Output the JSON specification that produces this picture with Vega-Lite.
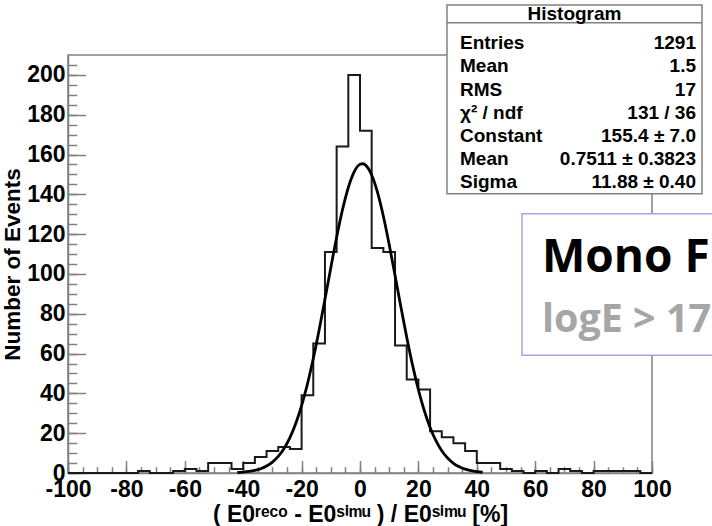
{
  "$schema": "https://vega.github.io/schema/vega-lite/v6.json",
  "width": 584,
  "height": 418,
  "autosize": {"type": "none"},
  "padding": {"left": 68, "top": 55, "right": 60, "bottom": 53},
  "background": "white",
  "config": {
    "view": {"stroke": "#808080", "strokeWidth": 1.5},
    "axis": {
      "grid": false,
      "labelFont": "Liberation Sans",
      "labelFontWeight": "bold",
      "labelFontSize": 23,
      "labelColor": "black",
      "titleFont": "Liberation Sans",
      "titleFontWeight": "bold",
      "titleColor": "black",
      "domainColor": "#808080",
      "domainWidth": 1.5,
      "tickColor": "#808080",
      "tickWidth": 1.5,
      "labelFlush": false,
      "labelOverlap": false
    }
  },
  "resolve": {"axis": {"x": "independent", "y": "independent"}},
  "layer": [
    {
      "data": {"values": [
        {"x": -100, "n": 0}, {"x": -96, "n": 0}, {"x": -92, "n": 0}, {"x": -88, "n": 0},
        {"x": -84, "n": 0}, {"x": -80, "n": 0}, {"x": -76, "n": 1}, {"x": -72, "n": 0},
        {"x": -68, "n": 0}, {"x": -64, "n": 1}, {"x": -60, "n": 2}, {"x": -56, "n": 1},
        {"x": -52, "n": 5}, {"x": -48, "n": 5}, {"x": -44, "n": 2}, {"x": -40, "n": 5},
        {"x": -36, "n": 8}, {"x": -32, "n": 11}, {"x": -28, "n": 13}, {"x": -24, "n": 12},
        {"x": -20, "n": 39}, {"x": -16, "n": 65}, {"x": -12, "n": 111}, {"x": -8, "n": 164},
        {"x": -4, "n": 200}, {"x": 0, "n": 172}, {"x": 4, "n": 113}, {"x": 8, "n": 111},
        {"x": 12, "n": 64}, {"x": 16, "n": 47}, {"x": 20, "n": 42}, {"x": 24, "n": 21},
        {"x": 28, "n": 18}, {"x": 32, "n": 15}, {"x": 36, "n": 11}, {"x": 40, "n": 5},
        {"x": 44, "n": 5}, {"x": 48, "n": 2}, {"x": 52, "n": 1}, {"x": 56, "n": 0},
        {"x": 60, "n": 1}, {"x": 64, "n": 0}, {"x": 68, "n": 2}, {"x": 72, "n": 1},
        {"x": 76, "n": 0}, {"x": 80, "n": 1}, {"x": 84, "n": 1}, {"x": 88, "n": 1},
        {"x": 92, "n": 1}, {"x": 96, "n": 0}, {"x": 100, "n": 0}
      ]},
      "mark": {"type": "line", "interpolate": "step-after", "color": "#1a1a1a", "strokeWidth": 2},
      "encoding": {
        "x": {
          "field": "x", "type": "quantitative",
          "scale": {"domain": [-100, 100], "nice": false},
          "axis": {
            "orient": "bottom",
            "values": [-100, -80, -60, -40, -20, 0, 20, 40, 60, 80, 100],
            "labelExpr": "replace(datum.label, '−', '-')",
            "ticks": false,
            "labelPadding": 5,
            "title": "( E0ʳᵉᶜᵒ - E0ˢⁱᵐᵘ ) / E0ˢⁱᵐᵘ [%]",
            "titleFontSize": 23,
            "titlePadding": 2
          }
        },
        "y": {
          "field": "n", "type": "quantitative",
          "scale": {"domain": [0, 210], "nice": false},
          "axis": {
            "orient": "left",
            "values": [0, 20, 40, 60, 80, 100, 120, 140, 160, 180, 200],
            "ticks": false,
            "labelPadding": 3,
            "title": "Number of Events",
            "titleFontSize": 22.5,
            "titlePadding": 2
          }
        }
      }
    },
    {
      "data": {"values": [
        {"x": -42, "f": 0.24}, {"x": -40, "f": 0.43}, {"x": -38, "f": 0.76}, {"x": -36, "f": 1.30},
        {"x": -34, "f": 2.16}, {"x": -32, "f": 3.48}, {"x": -30, "f": 5.45}, {"x": -28, "f": 8.31},
        {"x": -26, "f": 12.32}, {"x": -24, "f": 17.74}, {"x": -22, "f": 24.84}, {"x": -20, "f": 33.80},
        {"x": -18, "f": 44.72}, {"x": -16, "f": 57.51}, {"x": -14, "f": 71.88}, {"x": -12, "f": 87.35},
        {"x": -10, "f": 103.17}, {"x": -8, "f": 118.47}, {"x": -6, "f": 132.23}, {"x": -4, "f": 143.45},
        {"x": -2, "f": 151.28}, {"x": 0, "f": 155.09}, {"x": 1, "f": 155.37}, {"x": 2, "f": 154.54},
        {"x": 4, "f": 149.70}, {"x": 6, "f": 140.95}, {"x": 8, "f": 129.00}, {"x": 10, "f": 114.78},
        {"x": 12, "f": 99.26}, {"x": 14, "f": 83.43}, {"x": 16, "f": 68.19}, {"x": 18, "f": 54.17},
        {"x": 20, "f": 41.82}, {"x": 22, "f": 31.39}, {"x": 24, "f": 22.89}, {"x": 26, "f": 16.24},
        {"x": 28, "f": 11.19}, {"x": 30, "f": 7.50}, {"x": 32, "f": 4.89}, {"x": 34, "f": 3.10},
        {"x": 36, "f": 1.91}, {"x": 38, "f": 1.14}, {"x": 40, "f": 0.66}, {"x": 42, "f": 0.37}
      ]},
      "mark": {"type": "line", "interpolate": "monotone", "color": "black", "strokeWidth": 2.8},
      "encoding": {
        "x": {
          "field": "x", "type": "quantitative",
          "axis": {
            "orient": "bottom",
            "values": [-100, -80, -60, -40, -20, 0, 20, 40, 60, 80, 100],
            "labels": false, "domain": false, "ticks": true, "tickSize": -12.5, "title": null
          }
        },
        "y": {
          "field": "f", "type": "quantitative",
          "axis": {
            "orient": "left",
            "values": [0, 20, 40, 60, 80, 100, 120, 140, 160, 180, 200],
            "labels": false, "domain": false, "ticks": true, "tickSize": -17.5, "title": null
          }
        }
      }
    },
    {
      "data": {"values": [{}]},
      "mark": {"type": "rect", "fill": "white", "stroke": "#808080", "strokeWidth": 1.5},
      "encoding": {
        "x": {
          "datum": 29.79, "type": "quantitative",
          "axis": {
            "orient": "bottom",
            "values": [-100, -95, -90, -85, -80, -75, -70, -65, -60, -55, -50, -45, -40, -35, -30, -25, -20, -15, -10, -5, 0, 5, 10, 15, 20, 25, 30, 35, 40, 45, 50, 55, 60, 65, 70, 75, 80, 85, 90, 95, 100],
            "labels": false, "domain": false, "ticks": true, "tickSize": -6.3, "title": null
          }
        },
        "x2": {"datum": 117.12},
        "y": {
          "datum": 235.1, "type": "quantitative",
          "axis": {
            "orient": "left",
            "values": [0, 5, 10, 15, 20, 25, 30, 35, 40, 45, 50, 55, 60, 65, 70, 75, 80, 85, 90, 95, 100, 105, 110, 115, 120, 125, 130, 135, 140, 145, 150, 155, 160, 165, 170, 175, 180, 185, 190, 195, 200, 205],
            "labels": false, "domain": false, "ticks": true, "tickSize": -8.8, "title": null
          }
        },
        "y2": {"datum": 140.35}
      }
    },
    {
      "data": {"values": [{}]},
      "mark": {"type": "rule", "color": "#808080", "strokeWidth": 1.5},
      "encoding": {
        "x": {"datum": 29.79, "type": "quantitative", "axis": null},
        "x2": {"datum": 117.12},
        "y": {"datum": 226.2, "type": "quantitative", "axis": null}
      }
    },
    {
      "data": {"values": [{"t": "Histogram"}]},
      "mark": {"type": "text", "font": "Liberation Sans", "fontWeight": "bold", "fontSize": 19, "align": "center", "baseline": "middle", "color": "black"},
      "encoding": {
        "x": {"datum": 73.46, "type": "quantitative", "axis": null},
        "y": {"datum": 230.6, "type": "quantitative", "axis": null},
        "text": {"field": "t"}
      }
    },
    {
      "data": {"values": [{}]},
      "mark": {"type": "text", "font": "Liberation Sans", "fontWeight": "bold", "fontSize": 19, "align": "left", "baseline": "alphabetic", "lineHeight": 23.2, "color": "black"},
      "encoding": {
        "x": {"datum": 34.25, "type": "quantitative", "axis": null},
        "y": {"datum": 212.9, "type": "quantitative", "axis": null},
        "text": {"value": ["Entries", "Mean", "RMS", "χ² / ndf", "Constant", "Mean", "Sigma"]}
      }
    },
    {
      "data": {"values": [{}]},
      "mark": {"type": "text", "font": "Liberation Sans", "fontWeight": "bold", "fontSize": 19, "align": "right", "baseline": "alphabetic", "lineHeight": 23.2, "color": "black"},
      "encoding": {
        "x": {"datum": 115.07, "type": "quantitative", "axis": null},
        "y": {"datum": 212.9, "type": "quantitative", "axis": null},
        "text": {"value": ["1291", "1.5", "17", "131 / 36", "155.4 ± 7.0", "0.7511 ± 0.3823", "11.88 ± 0.40"]}
      }
    },
    {
      "data": {"values": [{}]},
      "mark": {"type": "rect", "fill": "white", "stroke": "#a3a6e3", "strokeWidth": 1.5},
      "encoding": {
        "x": {"datum": 55.48, "type": "quantitative", "axis": null},
        "x2": {"datum": 126.7},
        "y": {"datum": 130.3, "type": "quantitative", "axis": null},
        "y2": {"datum": 59.1}
      }
    },
    {
      "data": {"values": [{"t": "Mono F"}]},
      "mark": {"type": "text", "font": "Open Sans", "fontWeight": "bold", "fontSize": 46, "align": "left", "baseline": "alphabetic", "color": "black"},
      "encoding": {
        "x": {"datum": 62.3, "type": "quantitative", "axis": null},
        "y": {"datum": 100.9, "type": "quantitative", "axis": null},
        "text": {"field": "t"}
      }
    },
    {
      "data": {"values": [{"t": "logE > 17"}]},
      "mark": {"type": "text", "font": "Open Sans", "fontWeight": "bold", "fontSize": 39.5, "align": "left", "baseline": "alphabetic", "color": "#a6a6a6"},
      "encoding": {
        "x": {"datum": 62.3, "type": "quantitative", "axis": null},
        "y": {"datum": 70.8, "type": "quantitative", "axis": null},
        "text": {"field": "t"}
      }
    }
  ]
}
